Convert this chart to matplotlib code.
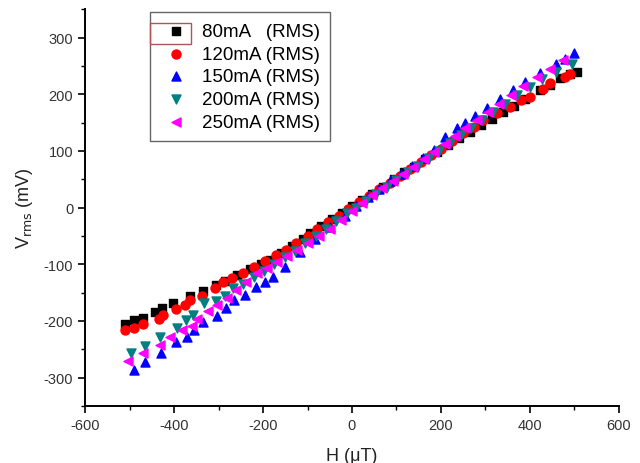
import numpy as np
import matplotlib.pyplot as plt
from matplotlib.ticker import MultipleLocator
from matplotlib.patches import Rectangle

plt.rcParams['font.family'] = ['Liberation Sans', 'DejaVu Sans']
plt.rcParams['axes.unicode_minus'] = False

# H (uT) and Vrms (mV), one pair of lists per drive current
h_80 = [-510, -490, -470, -443, -428, -403, -364, -336, -306, -285, -259, -230, -205, -184,
        -160, -135, -110, -94, -70, -45, -22, 0, 22, 45, 70, 95, 118, 140, 165, 190, 215,
        240, 265, 290, 315, 340, 365, 390, 422, 445, 467, 490, 505]
v_80 = [-206, -199, -195, -185, -178, -168, -156, -148, -137, -130, -119, -108, -100, -92,
        -80, -68, -55, -44, -33, -20, -9, 3, 13, 24, 37, 50, 62, 72, 85, 98, 110,
        122, 133, 146, 157, 168, 180, 192, 208, 216, 228, 235, 240]

h_120 = [-510, -490, -470, -435, -424, -396, -375, -364, -338, -308, -289, -270, -245, -220,
         -195, -170, -148, -125, -100, -78, -55, -30, -8, 15, 38, 60, 85, 108, 130, 155,
         178, 201, 225, 250, 275, 295, 325, 355, 381, 400, 430, 445, 479, 490]
v_120 = [-216, -213, -206, -197, -190, -179, -172, -163, -156, -142, -132, -125, -115, -105,
         -95, -84, -74, -62, -50, -38, -26, -14, -2, 10, 21, 32, 44, 56, 68, 80,
         92, 104, 118, 131, 143, 154, 166, 178, 189, 195, 210, 219, 230, 236]

h_150 = [-490, -465, -430, -396, -370, -355, -336, -304, -283, -265, -240, -215, -195, -177,
         -150, -117, -83, -49, -16, 10, 35, 60, 85, 110, 135, 160, 185, 210, 235, 255,
         276, 303, 333, 362, 389, 422, 458, 478, 498]
v_150 = [-287, -272, -257, -237, -229, -216, -202, -191, -178, -163, -155, -140, -132, -122,
         -104, -78, -56, -35, -14, 2, 18, 32, 46, 60, 74, 88, 102, 125, 140, 150,
         162, 176, 192, 208, 222, 238, 254, 262, 272]

h_200 = [-497, -465, -431, -394, -373, -357, -333, -306, -285, -267, -245, -220, -198, -175,
         -150, -128, -105, -80, -58, -35, -12, 10, 32, 55, 78, 100, 125, 148, 172, 195,
         220, 245, 268, 292, 318, 345, 372, 400, 428, 458, 494]
v_200 = [-257, -244, -228, -212, -199, -189, -168, -165, -156, -142, -135, -122, -112, -100,
         -88, -77, -63, -50, -38, -24, -10, 0, 12, 24, 37, 48, 62, 74, 88, 100,
         114, 128, 140, 154, 168, 182, 198, 213, 226, 239, 254]

h_250 = [-503, -470, -431, -409, -383, -360, -349, -323, -304, -282, -261, -238, -214, -190,
         -169, -146, -124, -100, -75, -49, -25, 0, 22, 45, 68, 92, 115, 138, 162, 185,
         208, 232, 255, 280, 305, 330, 358, 385, 415, 445, 475]
v_250 = [-271, -257, -242, -228, -216, -209, -196, -183, -172, -159, -146, -132, -116, -106,
         -96, -86, -75, -62, -50, -38, -22, -6, 8, 22, 34, 47, 60, 72, 86, 98,
         112, 126, 140, 154, 168, 182, 198, 214, 230, 245, 260]

labels = ['80mA   (RMS)', '120mA (RMS)', '150mA (RMS)', '200mA (RMS)', '250mA (RMS)']

fig = plt.figure(figsize=(6.4, 4.64), dpi=100)
ax = fig.add_axes([0.133, 0.123, 0.834, 0.855])

ms = 42
ax.scatter(h_80, v_80, s=ms * 0.85, marker='s', c='black', label=labels[0], zorder=3)
ax.scatter(h_120, v_120, s=ms, marker='o', c='#ff0000', label=labels[1], zorder=3)
ax.scatter(h_150, v_150, s=ms, marker='^', c='#0000ff', label=labels[2], zorder=3)
ax.scatter(h_200, v_200, s=ms, marker='v', c='#008080', label=labels[3], zorder=3)
ax.scatter(h_250, v_250, s=ms, marker='<', c='#ff00ff', label=labels[4], zorder=3)

ax.set_xlim(-600, 600)
ax.set_ylim(-350, 350)
ax.xaxis.set_major_locator(MultipleLocator(200))
ax.xaxis.set_minor_locator(MultipleLocator(100))
ax.yaxis.set_major_locator(MultipleLocator(100))
ax.yaxis.set_minor_locator(MultipleLocator(50))

for s in ['top', 'right']:
    ax.spines[s].set_visible(False)
for s in ['left', 'bottom']:
    ax.spines[s].set_linewidth(1.4)
ax.tick_params(which='major', direction='out', length=5, width=1.2, labelsize=10.5, labelcolor='#333333')
ax.tick_params(which='minor', direction='out', length=3, width=1.0)

ax.set_xlabel('H (\u03bcT)', fontsize=13, color='#222222', labelpad=11)
ax.set_ylabel('V$_{\\rm rms}$ (mV)', fontsize=13, color='#222222', labelpad=6)

leg = ax.legend(loc='upper left', bbox_to_anchor=(0.122, 0.992), borderaxespad=0,
                fontsize=13.5, fancybox=False, edgecolor='#666666', framealpha=1,
                handletextpad=0.6, labelspacing=0.3, borderpad=0.55, handlelength=1.6)
leg.get_frame().set_linewidth(1.0)
leg.set_zorder(5)

# thin reddish box around the first legend symbol, as in the original
ax.add_patch(Rectangle((0.122, 0.912), 0.077, 0.053, transform=ax.transAxes,
                       fill=False, edgecolor='#b05555', linewidth=1.0, zorder=6))

plt.savefig('out.png', dpi=100)
